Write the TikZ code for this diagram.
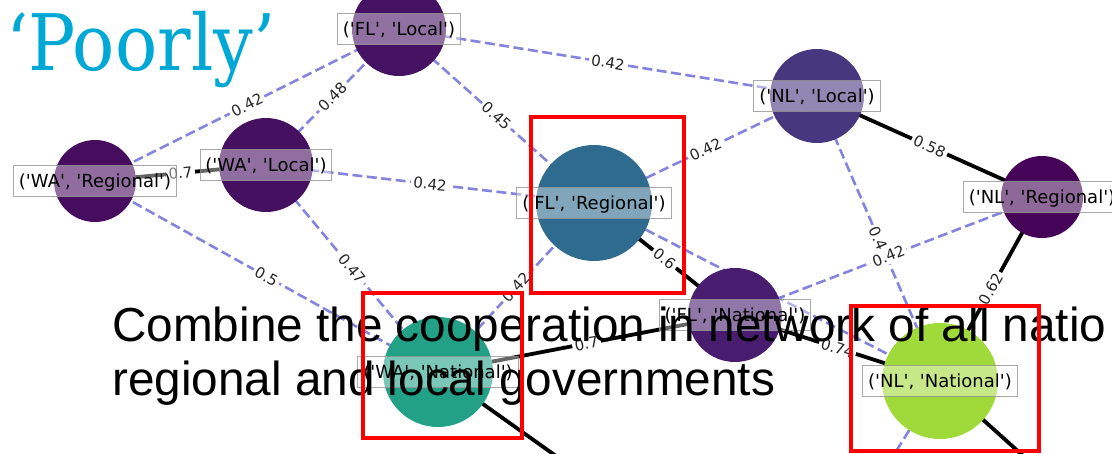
\documentclass[tikz,border=0pt]{standalone}
\usepackage{fontspec}
\setmainfont{DejaVu Sans}
\newfontfamily\labelfont{DejaVu Sans}
\newfontfamily\slabfont{DejaVu Serif}
\newfontfamily\bodyfont{Liberation Sans}

% node colours (viridis shades)
\definecolor{cWAR}{HTML}{460C5E}
\definecolor{cWAL}{HTML}{461061}
\definecolor{cFLL}{HTML}{461364}
\definecolor{cNLL}{HTML}{46377F}
\definecolor{cNLR}{HTML}{450458}
\definecolor{cFLR}{HTML}{2E6B8E}
\definecolor{cFLN}{HTML}{481D6F}
\definecolor{cWAN}{HTML}{22A187}
\definecolor{cNLN}{HTML}{A0D93A}
\definecolor{edgeblue}{RGB}{132,132,222}
\definecolor{titlecyan}{RGB}{0,168,214}

\pgfdeclarelayer{edgelayer}
\pgfdeclarelayer{elabellayer}
\pgfsetlayers{edgelayer,elabellayer,main}

\tikzset{
  gnode/.style={circle, inner sep=0pt, minimum size=#1},
  nlabel/.style={draw=black!45, draw opacity=0.75, fill=white, fill opacity=0.4,
    text opacity=1, line width=1.1pt, inner xsep=5.4pt, inner ysep=5.4pt,
    text height=16.7pt, text depth=4.25pt,
    font=\labelfont\fontsize{18}{20}\selectfont},
  weak/.style={draw=edgeblue, line width=2.6pt, dash pattern=on 10pt off 4.5pt},
  strong/.style={draw=black, line width=3.8pt},
  elabel/.style={sloped, fill=white, rounded corners=3pt, inner sep=2.5pt,
    font=\labelfont\fontsize{15}{17}\selectfont, text=black!85},
  focus/.style={draw=red, line width=3.5pt},
  bodytext/.style={anchor=base west, inner sep=0pt,
    font=\bodyfont\fontsize{47.7}{54}\selectfont},
}

\begin{document}
\begin{tikzpicture}[x=1pt, y=-1pt]
\useasboundingbox (0,0) rectangle (1112,453);
\clip (0,0) rectangle (1112,453);

% graph nodes
\node[gnode=82pt,  fill=cWAR] (WAR) at (95,181) {};
\node[gnode=94pt,  fill=cWAL] (WAL) at (266,165) {};
\node[gnode=94pt,  fill=cFLL] (FLL) at (399,29) {};
\node[gnode=116pt, fill=cFLR] (FLR) at (594,203) {};
\node[gnode=94pt,  fill=cNLL] (NLL) at (817,96) {};
\node[gnode=82pt,  fill=cNLR] (NLR) at (1042,197) {};
\node[gnode=94pt,  fill=cFLN] (FLN) at (735,315) {};
\node[gnode=110pt, fill=cWAN] (WAN) at (438,372) {};
\node[gnode=116pt, fill=cNLN] (NLN) at (940,381) {};

% edges leaving the visible area
\coordinate (offA) at (688,550);
\coordinate (offB) at (1060,489);
\coordinate (offC) at (840,541);

\begin{pgfonlayer}{edgelayer}
  \draw[weak] (WAR.center) -- (FLL.center);
  \draw[weak] (WAL.center) -- (FLL.center);
  \draw[weak] (FLL.center) -- (NLL.center);
  \draw[weak] (FLL.center) -- (FLR.center);
  \draw[weak] (WAL.center) -- (FLR.center);
  \draw[weak] (FLR.center) -- (NLL.center);
  \draw[weak] (WAR.center) -- (WAN.center);
  \draw[weak] (WAL.center) -- (WAN.center);
  \draw[weak] (WAN.center) -- (FLR.center);
  \draw[weak] (NLL.center) -- (NLN.center);
  \draw[weak] (FLN.center) -- (NLR.center);
  \draw[weak] (FLR.center) -- (NLN.center);
  \draw[weak] (NLN.center) -- (offC);
  \draw[strong] (WAR.center) -- (WAL.center);
  \draw[strong] (NLL.center) -- (NLR.center);
  \draw[strong] (FLR.center) -- (FLN.center);
  \draw[strong] (NLR.center) -- (NLN.center);
  \draw[strong] (WAN.center) -- (FLN.center);
  \draw[strong] (FLN.center) -- (NLN.center);
  \draw[strong] (WAN.center) -- (offA);
  \draw[strong] (NLN.center) -- (offB);
\end{pgfonlayer}

\begin{pgfonlayer}{elabellayer}
  \path (WAR.center) -- node[elabel] {0.42} (FLL.center);
  \path (WAL.center) -- node[elabel] {0.48} (FLL.center);
  \path (FLL.center) -- node[elabel] {0.42} (NLL.center);
  \path (FLL.center) -- node[elabel] {0.45} (FLR.center);
  \path (WAL.center) -- node[elabel] {0.42} (FLR.center);
  \path (FLR.center) -- node[elabel] {0.42} (NLL.center);
  \path (WAR.center) -- node[elabel] {0.5} (WAN.center);
  \path (WAL.center) -- node[elabel] {0.47} (WAN.center);
  \path (WAN.center) -- node[elabel] {0.42} (FLR.center);
  \path (NLL.center) -- node[elabel] {0.4} (NLN.center);
  \path (FLN.center) -- node[elabel] {0.42} (NLR.center);
  \path (WAR.center) -- node[elabel] {0.7} (WAL.center);
  \path (NLL.center) -- node[elabel] {0.58} (NLR.center);
  \path (FLR.center) -- node[elabel] {0.6} (FLN.center);
  \path (NLR.center) -- node[elabel] {0.62} (NLN.center);
  \path (WAN.center) -- node[elabel] {0.7} (FLN.center);
  \path (FLN.center) -- node[elabel] {0.74} (NLN.center);
\end{pgfonlayer}

% node labels
\node[nlabel] (tWAR) at (WAR.center) {('WA', 'Regional')};
\node[nlabel] (tWAL) at (WAL.center) {('WA', 'Local')};
\node[nlabel] (tFLL) at (FLL.center) {('FL', 'Local')};
\node[nlabel] (tFLR) at (FLR.center) {('FL', 'Regional')};
\node[nlabel] (tNLL) at (NLL.center) {('NL', 'Local')};
\node[nlabel] (tNLR) at (NLR.center) {('NL', 'Regional')};
\node[nlabel] (tFLN) at (FLN.center) {('FL', 'National')};
\node[nlabel] (tWAN) at (WAN.center) {('WA', 'National')};
\node[nlabel] (tNLN) at (NLN.center) {('NL', 'National')};

% slide text
\node[anchor=base west, inner sep=0pt, text=titlecyan,
      font=\slabfont\fontsize{78}{80}\selectfont] (title) at (6,70)
      {\scalebox{0.9}[1]{‘Poorly’}};
\node[bodytext] (line1) at (112,341) {Combine the cooperation in network of all natio};
\node[bodytext] (line2) at (112,395) {regional and local governments};

% highlight frames
\draw[focus] (531,117) rectangle (684,293);
\draw[focus] (363,293) rectangle (522,438);
\draw[focus] (851,306) rectangle (1039,451);
\end{tikzpicture}
\end{document}
